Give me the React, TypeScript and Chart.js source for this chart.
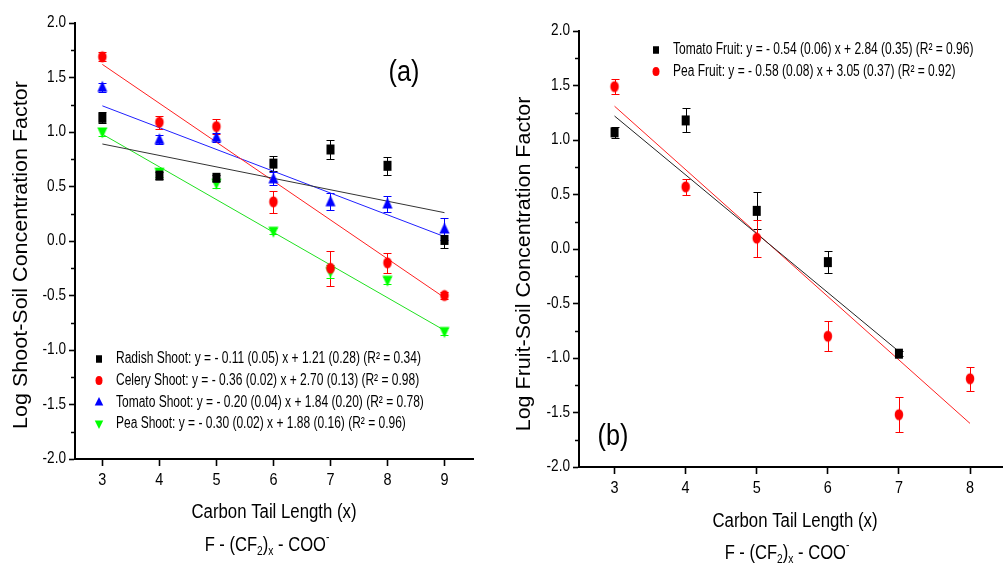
import React, { useEffect, useRef } from "react";
import { Chart, registerables } from "chart.js";
Chart.register(...registerables);

const SANS = '"Liberation Sans", Arial, sans-serif';

// ---------- Panel (a): shoots ----------
const carbonA = [3, 4, 5, 6, 7, 8, 9];
const radishShoot = [1.13, 0.6, 0.58, 0.71, 0.84, 0.69, 0.01];
const radishShootErr = [0.05, 0.03, 0.03, 0.07, 0.09, 0.08, 0.07];
const celeryShoot = [1.69, 1.09, 1.05, 0.36, -0.25, -0.2, -0.5];
const celeryShootErr = [0.04, 0.06, 0.07, 0.1, 0.16, 0.09, 0.03];
const tomatoShoot = [1.41, 0.93, 0.95, 0.57, 0.36, 0.34, 0.11];
const tomatoShootErr = [0.04, 0.04, 0.04, 0.06, 0.08, 0.07, 0.1];
const peaShoot = [1.0, 0.63, 0.53, 0.09, -0.28, -0.36, -0.83];
const peaShootErr = [0.04, 0.04, 0.04, 0.03, 0.06, 0.03, 0.03];
const fitXA = [3, 9];
const radishShootFit = [0.89, 0.26];
const celeryShootFit = [1.62, -0.52];
const tomatoShootFit = [1.24, 0.04];
const peaShootFit = [0.98, -0.82];
const xTicksA = [3, 4, 5, 6, 7, 8, 9];

// ---------- Panel (b): fruits ----------
const carbonTomatoB = [3, 4, 5, 6, 7];
const tomatoFruit = [1.07, 1.18, 0.35, -0.12, -0.96];
const tomatoFruitErr = [0.05, 0.11, 0.17, 0.1, 0.02];
const carbonPeaB = [3, 4, 5, 6, 7, 8];
const peaFruit = [1.49, 0.57, 0.1, -0.8, -1.52, -1.19];
const peaFruitErr = [0.07, 0.07, 0.17, 0.14, 0.16, 0.11];
const fitTomatoXB = [3, 7];
const tomatoFruitFit = [1.22, -0.94];
const fitPeaXB = [3, 8];
const peaFruitFit = [1.31, -1.6];
const xTicksB = [3, 4, 5, 6, 7, 8];

const yTicks = [-2.0, -1.5, -1.0, -0.5, 0.0, 0.5, 1.0, 1.5, 2.0];
const yMinorTicks = [-1.75, -1.25, -0.75, -0.25, 0.25, 0.75, 1.25, 1.75];

const legendA = [
  "Radish Shoot: y = - 0.11 (0.05) x + 1.21 (0.28) (R\u00B2 = 0.34)",
  "Celery Shoot: y = - 0.36 (0.02) x + 2.70 (0.13) (R\u00B2 = 0.98)",
  "Tomato Shoot: y = - 0.20 (0.04) x + 1.84 (0.20) (R\u00B2 = 0.78)",
  "Pea Shoot: y = - 0.30 (0.02) x + 1.88 (0.16) (R\u00B2 = 0.96)",
];
const legendB = [
  "Tomato Fruit: y = - 0.54 (0.06) x + 2.84 (0.35) (R\u00B2 = 0.96)",
  "Pea Fruit: y = - 0.58 (0.08) x + 3.05 (0.37) (R\u00B2 = 0.92)",
];

type Series = {
  label: string;
  color: string;
  lineColor: string;
  shape: string; // rect | circle | up | down
  x: number[];
  y: number[];
  err: number[];
  fitX: number[];
  fitY: number[];
};

type PanelCfg = {
  width: number;
  height: number;
  area: { left: number; top: number; right: number; bottom: number };
  xMin: number;
  xMax: number;
  xTicks: number[];
  series: Series[];
  legend: { x: number; y: number; dy: number; textX: number; size: number; sx: number };
  yTitle: string;
  yTitlePos: { x: number; y: number };
  xTitlePos: { x: number; y: number };
  formulaPos: { x: number; y: number };
  tag: string;
  tagPos: { x: number; y: number };
};

const panelA: PanelCfg = {
  width: 500,
  height: 567,
  area: { left: 75, top: 23, right: 473, bottom: 459 },
  xMin: 2.52,
  xMax: 9.5,
  xTicks: xTicksA,
  series: [
    { label: legendA[0], color: "#000000", lineColor: "#333333", shape: "rect", x: carbonA, y: radishShoot, err: radishShootErr, fitX: fitXA, fitY: radishShootFit },
    { label: legendA[1], color: "#ff0000", lineColor: "#ff2020", shape: "circle", x: carbonA, y: celeryShoot, err: celeryShootErr, fitX: fitXA, fitY: celeryShootFit },
    { label: legendA[2], color: "#0000ff", lineColor: "#2020ff", shape: "up", x: carbonA, y: tomatoShoot, err: tomatoShootErr, fitX: fitXA, fitY: tomatoShootFit },
    { label: legendA[3], color: "#00ff00", lineColor: "#20e020", shape: "down", x: carbonA, y: peaShoot, err: peaShootErr, fitX: fitXA, fitY: peaShootFit },
  ],
  legend: { x: 99, y: 359, dy: 21.6, textX: 116, size: 16, sx: 0.75 },
  yTitle: "Log Shoot-Soil Concentration Factor",
  yTitlePos: { x: 22, y: 255 },
  xTitlePos: { x: 274, y: 513 },
  formulaPos: { x: 267, y: 546 },
  tag: "(a)",
  tagPos: { x: 404, y: 73 },
};

const panelB: PanelCfg = {
  width: 508,
  height: 567,
  area: { left: 79, top: 31, right: 507, bottom: 467 },
  xMin: 2.5,
  xMax: 8.45,
  xTicks: xTicksB,
  series: [
    { label: legendB[0], color: "#000000", lineColor: "#222222", shape: "rect", x: carbonTomatoB, y: tomatoFruit, err: tomatoFruitErr, fitX: fitTomatoXB, fitY: tomatoFruitFit },
    { label: legendB[1], color: "#ff0000", lineColor: "#ff2020", shape: "circle", x: carbonPeaB, y: peaFruit, err: peaFruitErr, fitX: fitPeaXB, fitY: peaFruitFit },
  ],
  legend: { x: 156, y: 50, dy: 21.5, textX: 173, size: 16, sx: 0.75 },
  yTitle: "Log Fruit-Soil Concentration Factor",
  yTitlePos: { x: 25, y: 264 },
  xTitlePos: { x: 295, y: 522 },
  formulaPos: { x: 287, y: 554 },
  tag: "(b)",
  tagPos: { x: 113, y: 437 },
};

function shapePath(ctx: CanvasRenderingContext2D, shape: string, cx: number, cy: number, w: number, h: number) {
  ctx.beginPath();
  if (shape === "rect") {
    ctx.rect(cx - w / 2, cy - h / 2, w, h);
  } else if (shape === "circle") {
    ctx.ellipse(cx, cy, w / 2, h / 2, 0, 0, Math.PI * 2);
  } else if (shape === "up") {
    ctx.moveTo(cx, cy - h * 0.6);
    ctx.lineTo(cx + w / 2, cy + h * 0.4);
    ctx.lineTo(cx - w / 2, cy + h * 0.4);
    ctx.closePath();
  } else {
    ctx.moveTo(cx, cy + h * 0.6);
    ctx.lineTo(cx + w / 2, cy - h * 0.4);
    ctx.lineTo(cx - w / 2, cy - h * 0.4);
    ctx.closePath();
  }
}

const markerSize: Record<string, [number, number]> = {
  rect: [8, 10],
  circle: [8.5, 11],
  up: [10, 11],
  down: [10, 11],
};
const legendMarkerSize: Record<string, [number, number]> = {
  rect: [6, 7.5],
  circle: [7, 9],
  up: [8.5, 8.5],
  down: [8.5, 8.5],
};

function makeMarker(shape: string, color: string): HTMLCanvasElement {
  const c = document.createElement("canvas");
  c.width = 16;
  c.height = 16;
  const ctx = c.getContext("2d")!;
  const [w, h] = markerSize[shape];
  ctx.fillStyle = color;
  shapePath(ctx, shape, 8, 8, w, h);
  ctx.fill();
  return c;
}

function scaledText(ctx: CanvasRenderingContext2D, text: string, x: number, y: number, sx: number, sy = 1) {
  ctx.save();
  ctx.translate(x, y);
  ctx.scale(sx, sy);
  ctx.fillText(text, 0, 0);
  ctx.restore();
}

function drawFormula(ctx: CanvasRenderingContext2D, cx: number, cy: number, size: number, sx: number) {
  const segs = [
    { t: "F - (CF", s: 1, dy: 0 },
    { t: "2", s: 0.62, dy: 0.3 },
    { t: ")", s: 1, dy: 0 },
    { t: "x", s: 0.62, dy: 0.3 },
    { t: " - COO", s: 1, dy: 0 },
    { t: "-", s: 0.62, dy: -0.42 },
  ];
  let total = 0;
  const widths = segs.map((sg) => {
    ctx.font = `${size * sg.s}px ${SANS}`;
    const w = ctx.measureText(sg.t).width;
    total += w;
    return w;
  });
  ctx.save();
  ctx.translate(cx, cy);
  ctx.scale(sx, 1);
  let x = -total / 2;
  ctx.textAlign = "left";
  ctx.textBaseline = "middle";
  segs.forEach((sg, i) => {
    ctx.font = `${size * sg.s}px ${SANS}`;
    ctx.fillText(sg.t, x, sg.dy * size);
    x += widths[i];
  });
  ctx.restore();
}

function Panel({ cfg, left }: { cfg: PanelCfg; left: number }) {
  const ref = useRef<HTMLCanvasElement | null>(null);
  useEffect(() => {
    if (!ref.current) return;
    const datasets: any[] = [];
    cfg.series.forEach((s) => {
      datasets.push({
        type: "scatter",
        label: s.label,
        data: s.x.map((v, i) => ({ x: v, y: s.y[i] })),
        errors: s.err,
        pointStyle: makeMarker(s.shape, s.color),
        pointRadius: 6,
        pointBorderWidth: 0,
        backgroundColor: s.color,
        borderColor: s.color,
        showLine: false,
      });
    });
    cfg.series.forEach((s) => {
      datasets.push({
        type: "line",
        label: s.label + " fit",
        data: s.fitX.map((v, i) => ({ x: v, y: s.fitY[i] })),
        borderColor: s.lineColor,
        borderWidth: 1,
        pointRadius: 0,
        fill: false,
      });
    });

    const extras = {
      id: "extras",
      beforeDatasetsDraw(chart: any) {
        const ctx = chart.ctx as CanvasRenderingContext2D;
        const xs = chart.scales.x;
        const ys = chart.scales.y;
        ctx.save();
        chart.data.datasets.forEach((ds: any) => {
          if (!ds.errors) return;
          ctx.strokeStyle = ds.borderColor;
          ctx.lineWidth = 1;
          ds.data.forEach((p: any, i: number) => {
            const e = ds.errors[i];
            const px = Math.round(xs.getPixelForValue(p.x)) + 0.5;
            const top = Math.round(ys.getPixelForValue(p.y + e)) + 0.5;
            const bot = Math.round(ys.getPixelForValue(p.y - e)) + 0.5;
            ctx.beginPath();
            ctx.moveTo(px, top);
            ctx.lineTo(px, bot);
            ctx.moveTo(px - 4, top);
            ctx.lineTo(px + 4, top);
            ctx.moveTo(px - 4, bot);
            ctx.lineTo(px + 4, bot);
            ctx.stroke();
          });
        });
        ctx.restore();
      },
      afterDraw(chart: any) {
        const ctx = chart.ctx as CanvasRenderingContext2D;
        const xs = chart.scales.x;
        const ys = chart.scales.y;
        const ca = chart.chartArea;
        ctx.save();
        // minor ticks
        ctx.strokeStyle = "#000";
        ctx.lineWidth = 1.5;
        yMinorTicks.forEach((v) => {
          const py = Math.round(ys.getPixelForValue(v)) + 0.5;
          ctx.beginPath();
          ctx.moveTo(ca.left - 4, py);
          ctx.lineTo(ca.left, py);
          ctx.stroke();
        });
        // tick labels
        ctx.fillStyle = "#000";
        ctx.font = `16px ${SANS}`;
        ctx.textAlign = "right";
        ctx.textBaseline = "middle";
        yTicks.forEach((v) => {
          scaledText(ctx, v.toFixed(1), ca.left - 9, ys.getPixelForValue(v), 0.85);
        });
        ctx.font = `17px ${SANS}`;
        ctx.textAlign = "center";
        cfg.xTicks.forEach((v) => {
          scaledText(ctx, String(v), xs.getPixelForValue(v), ca.bottom + 21, 0.85);
        });
        // legend
        const lg = cfg.legend;
        cfg.series.forEach((s, i) => {
          const y = lg.y + i * lg.dy;
          const [w, h] = legendMarkerSize[s.shape];
          ctx.fillStyle = s.color;
          shapePath(ctx, s.shape, lg.x, y, w, h);
          ctx.fill();
          ctx.fillStyle = "#000";
          ctx.font = `${lg.size}px ${SANS}`;
          ctx.textAlign = "left";
          ctx.textBaseline = "middle";
          scaledText(ctx, s.label, lg.textX, y, lg.sx);
        });
        // y title
        ctx.save();
        ctx.translate(cfg.yTitlePos.x, cfg.yTitlePos.y);
        ctx.rotate(-Math.PI / 2);
        ctx.scale(1, 0.9);
        ctx.font = `21.5px ${SANS}`;
        ctx.fillStyle = "#000";
        ctx.textAlign = "center";
        ctx.textBaseline = "middle";
        ctx.fillText(cfg.yTitle, 0, 0);
        ctx.restore();
        // x title
        ctx.fillStyle = "#000";
        ctx.font = `19.5px ${SANS}`;
        ctx.textAlign = "center";
        ctx.textBaseline = "middle";
        scaledText(ctx, "Carbon Tail Length (x)", cfg.xTitlePos.x, cfg.xTitlePos.y, 0.86);
        drawFormula(ctx, cfg.formulaPos.x, cfg.formulaPos.y, 19.5, 0.85);
        // tag
        ctx.font = `29px ${SANS}`;
        ctx.textAlign = "center";
        ctx.textBaseline = "middle";
        scaledText(ctx, cfg.tag, cfg.tagPos.x, cfg.tagPos.y, 0.87);
        ctx.restore();
      },
    };

    const chart = new Chart(ref.current, {
      type: "scatter",
      data: { datasets },
      options: {
        responsive: false,
        animation: false,
        devicePixelRatio: 1,
        layout: { padding: { top: cfg.area.top, right: cfg.width - cfg.area.right, left: 0, bottom: 0 } },
        plugins: { legend: { display: false }, tooltip: { enabled: false } },
        scales: {
          x: {
            type: "linear",
            min: cfg.xMin,
            max: cfg.xMax,
            afterBuildTicks: (s: any) => {
              s.ticks = cfg.xTicks.map((v) => ({ value: v }));
            },
            afterFit: (s: any) => {
              s.height = cfg.height - cfg.area.bottom;
            },
            grid: { drawOnChartArea: false, drawTicks: true, tickLength: 7, color: "#000", tickWidth: 1.6 },
            border: { display: true, color: "#000", width: 2 },
            ticks: { display: false, autoSkip: false },
          },
          y: {
            type: "linear",
            min: -2,
            max: 2,
            afterBuildTicks: (s: any) => {
              s.ticks = yTicks.map((v) => ({ value: v }));
            },
            afterFit: (s: any) => {
              s.width = cfg.area.left;
            },
            grid: { drawOnChartArea: false, drawTicks: true, tickLength: 6, color: "#000", tickWidth: 1.6 },
            border: { display: true, color: "#000", width: 2 },
            ticks: { display: false, autoSkip: false },
          },
        },
      } as any,
      plugins: [extras],
    });
    return () => chart.destroy();
  }, [cfg]);
  return (
    <canvas
      ref={ref}
      width={cfg.width}
      height={cfg.height}
      style={{ position: "absolute", left, top: 0, width: cfg.width, height: cfg.height }}
    />
  );
}

export default function App() {
  return (
    <div style={{ position: "fixed", left: 0, top: 0, width: 1008, height: 567, background: "#fff", overflow: "hidden" }}>
      <Panel cfg={panelA} left={0} />
      <Panel cfg={panelB} left={500} />
    </div>
  );
}
